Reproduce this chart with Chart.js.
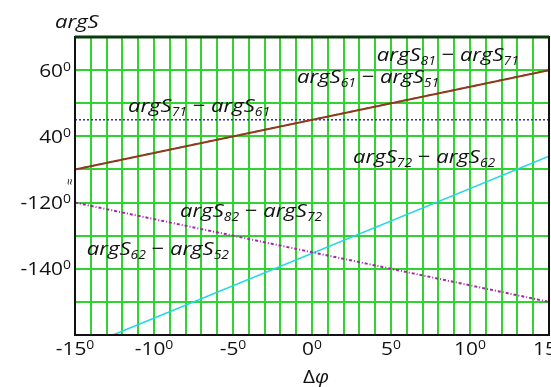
<!DOCTYPE html>
<html>
<head>
<meta charset="utf-8">
<script src="https://cdn.jsdelivr.net/npm/chart.js@4"></script>
<style>
  html, body { margin: 0; padding: 0; background: #fff; }
  #wrap { width: 551px; height: 387px; }
</style>
</head>
<body>
<div id="wrap"><canvas id="chart" width="551" height="387"></canvas></div>
<script>
// Datos (grados)
const deltaPhi = [-15, 15];
const argS61_51 = [30, 60];
const argS81_71 = [30, 60];
const argS71_61 = [45, 45];
const argS82_72 = [-120, -150];
const argS72_62_x = [-12.6, 15];
const argS72_62 = [-160, -106];
const xTickLabels = [-15, -10, -5, 0, 5, 10, 15];
const yTickLabels = [60, 40, -120, -140];

// El eje Y está partido: la parte de arriba (30..70) se dibuja desplazada
const BREAK_AT = -110;
const SHIFT = 140;
function toAxis(v) { return v >= 30 ? v - SHIFT : v; }

function pts(xs, ys, upper) {
    return xs.map((x, i) => ({ x: x, y: upper ? ys[i] - SHIFT : ys[i] }));
}

// Etiquetas de las curvas (posición en coordenadas de datos)
const curveLabels = [
    { a: '81', b: '71', x: 4.1, y: 62.9 },
    { a: '61', b: '51', x: -0.95, y: 56.0 },
    { a: '71', b: '61', x: -11.65, y: 47.3 },
    { a: '72', b: '62', x: 2.6, y: 31.8 },
    { a: '82', b: '72', x: -8.35, y: -124.5 },
    { a: '62', b: '52', x: -14.25, y: -135.8 }
];

const FONT = '"Open Sans", "Noto Sans", sans-serif';
const SX = 1.16; // el texto original está algo ensanchado

// Dibuja una lista de trozos [texto, fuente, desplazamiento vertical]
function drawParts(ctx, parts, x, y, align) {
    let w = 0;
    parts.forEach(p => { ctx.font = p[1]; w += ctx.measureText(p[0]).width; });
    w *= SX;
    let cx = x;
    if (align === 'right') cx = x - w;
    if (align === 'center') cx = x - w / 2;
    ctx.textAlign = 'left';
    ctx.textBaseline = 'alphabetic';
    parts.forEach(p => {
        ctx.font = p[1];
        ctx.save();
        ctx.translate(cx, y + p[2]);
        ctx.scale(SX, 1);
        ctx.fillText(p[0], 0, 0);
        ctx.restore();
        cx += ctx.measureText(p[0]).width * SX;
    });
}

function degParts(v) {
    return [[String(v), '18px ' + FONT, 0], ['0', '12px ' + FONT, -6]];
}

const extrasPlugin = {
    id: 'extras',
    afterDraw(chart) {
        const ctx = chart.ctx;
        const area = chart.chartArea;
        const xs = chart.scales.x;
        const ys = chart.scales.y;
        ctx.save();

        // marco
        ctx.strokeStyle = '#111';
        ctx.lineWidth = 2;
        ctx.strokeRect(area.left, area.top, area.right - area.left, area.bottom - area.top);
        ctx.strokeStyle = '#0d3a0d';
        ctx.lineWidth = 3;
        ctx.beginPath();
        ctx.moveTo(area.left, area.top);
        ctx.lineTo(area.right, area.top);
        ctx.stroke();

        ctx.fillStyle = '#111';

        // etiquetas de curvas
        const big = 'italic 19px ' + FONT;
        const small = 'italic 12px ' + FONT;
        curveLabels.forEach(l => {
            drawParts(ctx, [['argS', big, 0], [l.a, small, 4], [' \u2212 ', '19px ' + FONT, 0],
                ['argS', big, 0], [l.b, small, 4]],
                xs.getPixelForValue(l.x), ys.getPixelForValue(toAxis(l.y)), 'left');
        });

        // marcas de los ejes
        xTickLabels.forEach(v => {
            drawParts(ctx, degParts(v), xs.getPixelForValue(v), 355, 'center');
        });
        yTickLabels.forEach(v => {
            drawParts(ctx, degParts(v), area.left - 4, ys.getPixelForValue(toAxis(v)) + 6.5, 'right');
        });

        // títulos
        drawParts(ctx, [['argS', big, 0]], 55, 28, 'left');
        drawParts(ctx, [['\u0394', '18px ' + FONT, 0], ['\u03c6', 'italic 18px ' + FONT, 0]],
            xs.getPixelForValue(0) + 4, 383, 'center');

        // símbolo de corte del eje
        const yb = ys.getPixelForValue(BREAK_AT);
        ctx.translate(area.left - 5, yb + 12);
        ctx.rotate(-Math.PI / 2);
        ctx.font = '12px ' + FONT;
        ctx.textAlign = 'center';
        ctx.fillText('\u2248', 0, 4);
        ctx.restore();
    }
};

const ctx = document.getElementById('chart').getContext('2d');
const chart = new Chart(ctx, {
    type: 'scatter',
    data: {
        datasets: [
            { label: 'argS61-argS51', data: pts(deltaPhi, argS61_51, true), borderColor: '#8b3a1e', borderWidth: 2 },
            { label: 'argS81-argS71', data: pts(deltaPhi, argS81_71, true), borderColor: '#e02a2a', borderWidth: 1.5, borderDash: [4, 4] },
            { label: 'argS71-argS61', data: pts(deltaPhi, argS71_61, true), borderColor: '#3030a8', borderWidth: 1.5, borderDash: [2, 2] },
            { label: 'argS82-argS72', data: pts(deltaPhi, argS82_72, false), borderColor: '#a02aa0', borderWidth: 2, borderDash: [3, 2, 1, 2] },
            { label: 'argS72-argS62', data: pts(argS72_62_x, argS72_62, false), borderColor: '#22d6e6', borderWidth: 1.5 }
        ].map(d => Object.assign(d, { showLine: true, pointRadius: 0, fill: false, tension: 0 }))
    },
    options: {
        responsive: false,
        animation: false,
        layout: { padding: { top: 37, right: 2, left: 0, bottom: 0 } },
        plugins: { legend: { display: false }, tooltip: { enabled: false } },
        scales: {
            x: {
                type: 'linear',
                min: -15, max: 15,
                afterFit(s) { s.height = 52; },
                afterBuildTicks(s) {
                    s.ticks = [];
                    for (let v = -15; v <= 15; v++) s.ticks.push({ value: v });
                },
                grid: { color: '#2fd42f', lineWidth: 2, drawTicks: false },
                border: { display: false },
                ticks: { display: false }
            },
            y: {
                type: 'linear',
                min: -160, max: -70,
                afterFit(s) { s.width = 75; },
                afterBuildTicks(s) {
                    s.ticks = [];
                    for (let v = -160; v <= -70; v += 10) s.ticks.push({ value: v });
                },
                grid: { color: '#2fd42f', lineWidth: 2, drawTicks: false },
                border: { display: false },
                ticks: { display: false }
            }
        }
    },
    plugins: [extrasPlugin]
});
</script>
</body>
</html>
